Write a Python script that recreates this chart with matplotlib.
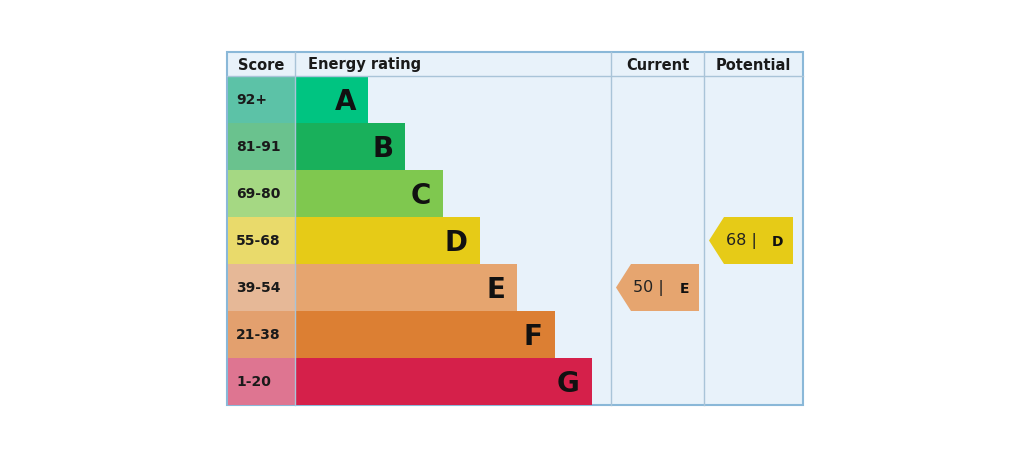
import matplotlib
matplotlib.use("Agg")
import matplotlib.pyplot as plt
from matplotlib.patches import Rectangle, Polygon

ratings = ["A", "B", "C", "D", "E", "F", "G"]
score_ranges = ["92+", "81-91", "69-80", "55-68", "39-54", "21-38", "1-20"]
bar_colors = ["#00c481", "#19b05b", "#7fc84f", "#e6cb17", "#e6a56f", "#dc7f33", "#d5204a"]
score_colors = ["#5cc2a7", "#6ac28e", "#a5d883", "#e9da6b", "#e6b897", "#e3a06e", "#de7591"]
current_score, current_rating = 50, "E"
potential_score, potential_rating = 68, "D"

fig = plt.figure(figsize=(10.24, 4.6), dpi=100)
ax = fig.add_axes([0, 0, 1, 1])
ax.set_xlim(0, 1024); ax.set_ylim(460, 0); ax.axis("off")

L, R, T, B = 227, 803, 53, 406
hdr = 77
c1, c2, c3 = 295, 611, 704
rowh = (B - hdr) / len(ratings)
bg = "#e8f2fa"; line = "#a9c4d8"
ax.add_patch(Rectangle((L, T), R - L, B - T, facecolor=bg, edgecolor="#8ab8d8", lw=1.5, zorder=0))
ax.plot([L, R], [hdr, hdr], color=line, lw=1)
for x in (c1, c2, c3):
    ax.plot([x, x], [T, B], color=line, lw=1)
hf = dict(fontsize=10.5, fontweight="bold", color="#1a1a1a", va="center")
ax.text((L + c1) / 2, (T + hdr) / 2, "Score", ha="center", **hf)
ax.text(c1 + 13, (T + hdr) / 2, "Energy rating", ha="left", **hf)
ax.text((c2 + c3) / 2, (T + hdr) / 2, "Current", ha="center", **hf)
ax.text((c3 + R) / 2, (T + hdr) / 2, "Potential", ha="center", **hf)

step = 37.3
for i, (r, s) in enumerate(zip(ratings, score_ranges)):
    y0 = hdr + i * rowh
    ax.add_patch(Rectangle((L + 1, y0), c1 - L - 1, rowh, facecolor=score_colors[i], edgecolor="none"))
    ax.text(L + 9, y0 + rowh / 2, s, ha="left", va="center", fontsize=10, fontweight="bold", color="#1a1a1a")
    w = 73 + step * i
    ax.add_patch(Rectangle((c1, y0), w, rowh, facecolor=bar_colors[i], edgecolor="none"))
    ax.text(c1 + w - 12, y0 + rowh / 2 + 2, r, ha="right", va="center", fontsize=20, fontweight="bold", color="#111111")

def arrow(x0, x1, score, rating):
    i = ratings.index(rating)
    y0 = hdr + i * rowh
    ym = y0 + rowh / 2
    ax.add_patch(Polygon([(x0, ym), (x0 + 15, y0), (x1, y0), (x1, y0 + rowh), (x0 + 15, y0 + rowh)],
                         closed=True, facecolor=bar_colors[i], edgecolor="none"))
    ax.text(x0 + 17, ym, f"{score} |", ha="left", va="center", fontsize=11.5, color="#222222")
    ax.text(x1 - 10, ym + 1, rating, ha="right", va="center", fontsize=10, fontweight="bold", color="#111111")

arrow(616, 699, current_score, current_rating)
arrow(709, 793, potential_score, potential_rating)

fig.savefig("out.png", dpi=100)
